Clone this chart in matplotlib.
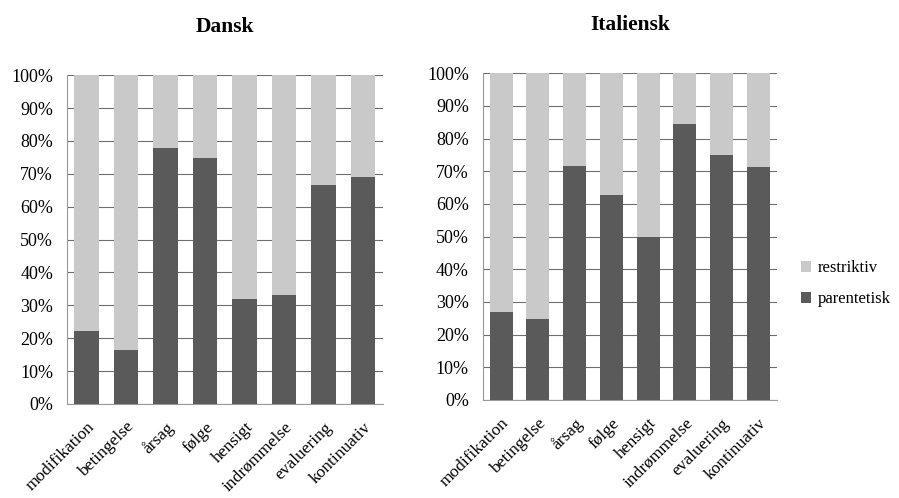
import numpy as np
import matplotlib.pyplot as plt
from matplotlib.ticker import PercentFormatter

plt.rcParams['font.family'] = ['Liberation Serif', 'DejaVu Serif']

categories = ['modifikation', 'betingelse', 'årsag', 'følge', 'hensigt',
              'indrømmelse', 'evaluering', 'kontinuativ']
dansk_parentetisk = [22.3, 16.3, 77.7, 74.8, 31.8, 33.2, 66.5, 69.0]
italiensk_parentetisk = [27.0, 24.8, 71.7, 62.8, 50.0, 84.5, 75.0, 71.2]

dark = '#5a5a5a'
light = '#c9c9c9'

fig = plt.figure(figsize=(8.99, 4.98), dpi=100)
ax1 = fig.add_axes([0.0745, 0.189, 0.3515, 0.66])
ax2 = fig.add_axes([0.537, 0.197, 0.327, 0.656])

for ax, vals, title in [(ax1, dansk_parentetisk, 'Dansk'),
                        (ax2, italiensk_parentetisk, 'Italiensk')]:
    x = np.arange(len(categories))
    vals = np.array(vals)
    ax.bar(x, vals, width=0.62, color=dark, zorder=3, label='parentetisk')
    ax.bar(x, 100 - vals, bottom=vals, width=0.62, color=light, zorder=3,
           label='restriktiv')
    ax.set_ylim(0, 100)
    ax.set_xlim(-0.5, len(categories) - 0.5)
    ax.set_yticks(np.arange(0, 101, 10))
    ax.yaxis.set_major_formatter(PercentFormatter(decimals=0))
    ax.grid(axis='y', color='#6f6f6f', linewidth=0.8, zorder=0)
    for s in ['top', 'right']:
        ax.spines[s].set_visible(False)
    for s in ['left', 'bottom']:
        ax.spines[s].set_color('#9a9a9a')
    ax.tick_params(axis='y', length=0, labelsize=13, pad=10)
    ax.tick_params(axis='x', length=0, labelsize=12.5, pad=11)
    ax.set_xticks(x)
    ax.set_xticklabels(categories, rotation=45, ha='right',
                       rotation_mode='anchor')
    ax.set_title(title, fontsize=15.5, fontweight='bold', pad=31)

handles, labels = ax2.get_legend_handles_labels()
fig.legend(handles[::-1], labels[::-1], loc='center left',
           bbox_to_anchor=(0.874, 0.43), frameon=False, fontsize=12,
           handlelength=0.6, handleheight=0.6, handletextpad=0.4,
           labelspacing=0.9)

fig.savefig('out.png', dpi=100)
